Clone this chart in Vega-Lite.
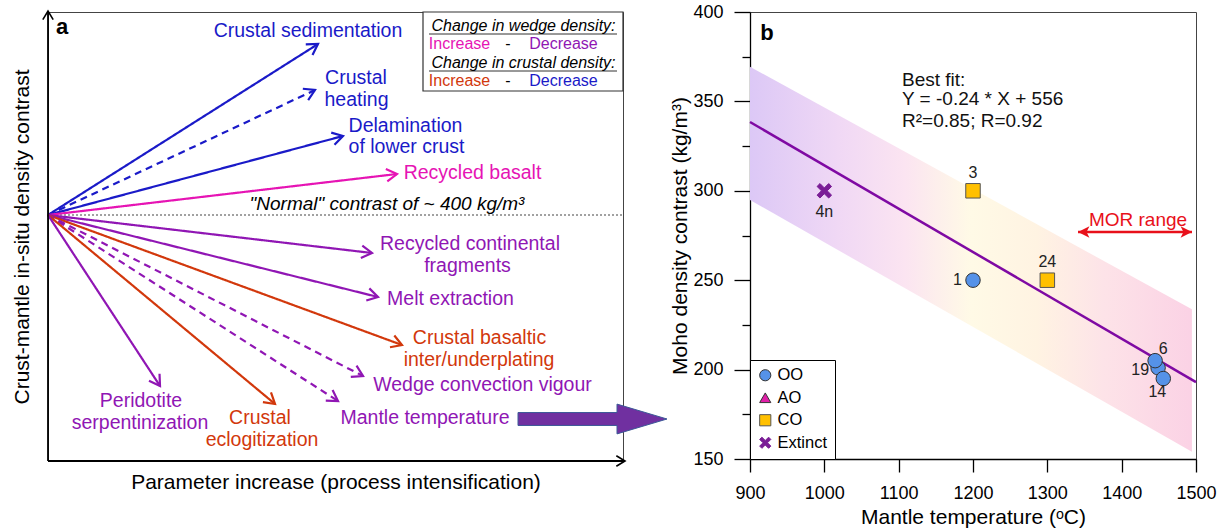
{
  "$schema": "https://vega.github.io/schema/vega-lite/v6.json",
  "padding": {"left": 10, "top": 2, "right": 5, "bottom": 5},
  "background": "white",
  "bounds": "flush",
  "spacing": 127,
  "resolve": {
    "scale": {"fill": "independent", "stroke": "independent", "shape": "independent", "color": "independent", "strokeDash": "independent"},
    "legend": {"fill": "independent", "stroke": "independent", "shape": "independent", "color": "independent", "strokeDash": "independent"}
  },
  "config": {
    "font": "Liberation Sans",
    "view": {"stroke": "#444", "strokeWidth": 1},
    "text": {"font": "Liberation Sans"}
  },
  "datasets": {
    "arrows": [
      {"process": "Crustal sedimentation", "x0": 0, "y0": 246, "x": 270, "y": 417, "ang": -32.3, "effect": "crust-", "line": "solid"},
      {"process": "Crustal heating", "x0": 0, "y0": 246, "x": 267, "y": 371, "ang": -25.1, "effect": "crust-", "line": "dashed"},
      {"process": "Delamination of lower crust", "x0": 0, "y0": 246, "x": 295, "y": 325, "ang": -15.0, "effect": "crust-", "line": "solid"},
      {"process": "Recycled basalt", "x0": 0, "y0": 246, "x": 349, "y": 287, "ang": -6.7, "effect": "wedge+", "line": "solid"},
      {"process": "Recycled continental fragments", "x0": 0, "y0": 246, "x": 324, "y": 208, "ang": 6.7, "effect": "wedge-", "line": "solid"},
      {"process": "Melt extraction", "x0": 0, "y0": 246, "x": 330, "y": 164, "ang": 14.0, "effect": "wedge-", "line": "solid"},
      {"process": "Crustal basaltic inter/underplating", "x0": 0, "y0": 246, "x": 354, "y": 116, "ang": 20.2, "effect": "crust+", "line": "solid"},
      {"process": "Wedge convection vigour", "x0": 0, "y0": 246, "x": 315, "y": 85, "ang": 27.1, "effect": "wedge-", "line": "dashed"},
      {"process": "Mantle temperature", "x0": 0, "y0": 246, "x": 290, "y": 60, "ang": 32.7, "effect": "wedge-", "line": "dashed"},
      {"process": "Crustal eclogitization", "x0": 0, "y0": 246, "x": 227, "y": 57, "ang": 39.8, "effect": "crust+", "line": "solid"},
      {"process": "Peridotite serpentinization", "x0": 0, "y0": 246, "x": 112, "y": 75, "ang": 56.8, "effect": "wedge-", "line": "solid"}
    ],
    "labels": [
      {"txt": "Crustal sedimentation", "x": 260, "y": 430, "effect": "crust-"},
      {"txt": "Crustal", "x": 308, "y": 383, "effect": "crust-"},
      {"txt": "heating", "x": 308.5, "y": 361, "effect": "crust-"},
      {"txt": "Delamination", "x": 357.5, "y": 335, "effect": "crust-"},
      {"txt": "of lower crust", "x": 358.5, "y": 314, "effect": "crust-"},
      {"txt": "Recycled basalt", "x": 424.5, "y": 288, "effect": "wedge+"},
      {"txt": "Recycled continental", "x": 422, "y": 217, "effect": "wedge-"},
      {"txt": "fragments", "x": 419.5, "y": 195, "effect": "wedge-"},
      {"txt": "Melt extraction", "x": 402.5, "y": 162, "effect": "wedge-"},
      {"txt": "Crustal basaltic", "x": 431.5, "y": 123, "effect": "crust+"},
      {"txt": "inter/underplating", "x": 431, "y": 101, "effect": "crust+"},
      {"txt": "Wedge convection vigour", "x": 434.5, "y": 76, "effect": "wedge-"},
      {"txt": "Mantle temperature", "x": 377, "y": 43, "effect": "wedge-"},
      {"txt": "Peridotite", "x": 93, "y": 60, "effect": "wedge-"},
      {"txt": "serpentinization", "x": 92, "y": 38, "effect": "wedge-"},
      {"txt": "Crustal", "x": 212, "y": 43, "effect": "crust+"},
      {"txt": "eclogitization", "x": 214, "y": 21, "effect": "crust+"}
    ],
    "keyrows": [
      {"txt": "Increase", "x": 411.5, "y": 417, "effect": "wedge+"},
      {"txt": "-", "x": 460, "y": 417, "effect": "none"},
      {"txt": "Decrease", "x": 515.5, "y": 417, "effect": "wedge-"},
      {"txt": "Increase", "x": 411.5, "y": 380, "effect": "crust+"},
      {"txt": "-", "x": 460, "y": 380, "effect": "none"},
      {"txt": "Decrease", "x": 515.5, "y": 380, "effect": "crust-"}
    ],
    "sites": [
      {"id": "4n", "type": "Extinct", "T": 1000, "D": 300},
      {"id": "3", "type": "CO", "T": 1200, "D": 300},
      {"id": "1", "type": "OO", "T": 1200, "D": 250},
      {"id": "24", "type": "CO", "T": 1300, "D": 250},
      {"id": "19", "type": "OO", "T": 1449, "D": 201},
      {"id": "6", "type": "OO", "T": 1445, "D": 205},
      {"id": "14", "type": "OO", "T": 1456, "D": 195}
    ]
  },
  "hconcat": [
    {
      "width": 575,
      "height": 449,
      "layer": [
        {
          "data": {"values": [{"x": 0, "x2": 575, "y": 246}]},
          "mark": {"type": "rule", "color": "#444", "strokeWidth": 1.2, "strokeDash": [2, 2]},
          "encoding": {
            "x": {"field": "x", "type": "quantitative", "scale": {"domain": [0, 575], "nice": false, "zero": false},
              "axis": {"title": "Parameter increase (process intensification)", "labels": false, "ticks": false, "domain": false, "grid": false, "titleFontSize": 21, "titleFontWeight": "normal", "titleColor": "#000", "titlePadding": 10}},
            "x2": {"field": "x2"},
            "y": {"field": "y", "type": "quantitative", "scale": {"domain": [0, 449], "nice": false, "zero": false},
              "axis": {"title": "Crust-mantle in-situ density contrast", "labels": false, "ticks": false, "domain": false, "grid": false, "titleFontSize": 21, "titleFontWeight": "normal", "titleColor": "#000", "titlePadding": 16}}
          }
        },
        {
          "data": {"name": "arrows"},
          "mark": {"type": "rule", "strokeWidth": 2.2, "strokeCap": "butt"},
          "encoding": {
            "x": {"field": "x0", "type": "quantitative"},
            "y": {"field": "y0", "type": "quantitative"},
            "x2": {"field": "x"},
            "y2": {"field": "y"},
            "color": {"field": "effect", "type": "nominal", "legend": null,
              "scale": {"domain": ["crust-", "crust+", "wedge+", "wedge-", "none"], "range": ["#1a1ac8", "#d2380c", "#e614b4", "#9016b4", "#000000"]}},
            "strokeDash": {"field": "line", "type": "nominal", "legend": null,
              "scale": {"domain": ["solid", "dashed"], "range": [[1, 0], [7, 5]]}}
          }
        },
        {
          "data": {"name": "arrows"},
          "mark": {"type": "point", "shape": "M-1,-0.6L0,0L-1,0.6", "filled": false, "size": 440, "strokeWidth": 2.2, "opacity": 1},
          "encoding": {
            "x": {"field": "x", "type": "quantitative"},
            "y": {"field": "y", "type": "quantitative"},
            "angle": {"field": "ang", "type": "quantitative", "scale": null},
            "color": {"field": "effect", "type": "nominal", "legend": null,
              "scale": {"domain": ["crust-", "crust+", "wedge+", "wedge-", "none"], "range": ["#1a1ac8", "#d2380c", "#e614b4", "#9016b4", "#000000"]}}
          }
        },
        {
          "data": {"values": [{"x": 375, "x2": 575, "y": 370, "y2": 449}]},
          "mark": {"type": "rect", "fill": "white", "stroke": "#333", "strokeWidth": 1.2},
          "encoding": {
            "x": {"field": "x", "type": "quantitative"},
            "x2": {"field": "x2"},
            "y": {"field": "y", "type": "quantitative"},
            "y2": {"field": "y2"}
          }
        },
        {
          "data": {"values": [{"x": 381, "x2": 569, "y": 427}, {"x": 381, "x2": 569, "y": 390}]},
          "mark": {"type": "rule", "color": "#333", "strokeWidth": 1},
          "encoding": {
            "x": {"field": "x", "type": "quantitative"},
            "x2": {"field": "x2"},
            "y": {"field": "y", "type": "quantitative"}
          }
        },
        {
          "data": {"name": "labels"},
          "mark": {"type": "text", "fontSize": 19.5, "align": "center", "baseline": "middle"},
          "encoding": {
            "x": {"field": "x", "type": "quantitative"},
            "y": {"field": "y", "type": "quantitative"},
            "text": {"field": "txt"},
            "color": {"field": "effect", "type": "nominal", "legend": null,
              "scale": {"domain": ["crust-", "crust+", "wedge+", "wedge-", "none"], "range": ["#1a1ac8", "#d2380c", "#e614b4", "#9016b4", "#000000"]}}
          }
        },
        {
          "data": {"values": [{"txt": "\"Normal\" contrast of ~ 400 kg/m³", "x": 339, "y": 257}]},
          "mark": {"type": "text", "fontSize": 19, "fontStyle": "italic", "align": "center", "baseline": "middle", "color": "#000"},
          "encoding": {
            "x": {"field": "x", "type": "quantitative"},
            "y": {"field": "y", "type": "quantitative"},
            "text": {"field": "txt"}
          }
        },
        {
          "data": {"values": [{"txt": "Change in wedge density:", "x": 475.5, "y": 435}, {"txt": "Change in crustal density:", "x": 475.5, "y": 398}]},
          "mark": {"type": "text", "fontSize": 16, "fontStyle": "italic", "align": "center", "baseline": "middle", "color": "#000"},
          "encoding": {
            "x": {"field": "x", "type": "quantitative"},
            "y": {"field": "y", "type": "quantitative"},
            "text": {"field": "txt"}
          }
        },
        {
          "data": {"name": "keyrows"},
          "mark": {"type": "text", "fontSize": 16, "align": "center", "baseline": "middle"},
          "encoding": {
            "x": {"field": "x", "type": "quantitative"},
            "y": {"field": "y", "type": "quantitative"},
            "text": {"field": "txt"},
            "color": {"field": "effect", "type": "nominal", "legend": null,
              "scale": {"domain": ["crust-", "crust+", "wedge+", "wedge-", "none"], "range": ["#1a1ac8", "#d2380c", "#e614b4", "#9016b4", "#000000"]}}
          }
        },
        {
          "data": {"values": [{"txt": "a", "x": 14, "y": 434}]},
          "mark": {"type": "text", "fontSize": 22, "fontWeight": "bold", "align": "center", "baseline": "middle", "color": "#000"},
          "encoding": {
            "x": {"field": "x", "type": "quantitative"},
            "y": {"field": "y", "type": "quantitative"},
            "text": {"field": "txt"}
          }
        },
        {
          "data": {"values": [{"x": 0, "y": 0, "x2": 577, "y2": 0}, {"x": 0, "y": 0, "x2": 0, "y2": 450}]},
          "mark": {"type": "rule", "color": "#000", "strokeWidth": 1.8},
          "encoding": {
            "x": {"field": "x", "type": "quantitative"},
            "y": {"field": "y", "type": "quantitative"},
            "x2": {"field": "x2"},
            "y2": {"field": "y2"}
          }
        },
        {
          "data": {"values": [{"x": 577, "y": 0, "ang": 0}, {"x": 0, "y": 450, "ang": -90}]},
          "mark": {"type": "point", "shape": "M-1,-0.6L0,0L-1,0.6", "filled": false, "size": 300, "strokeWidth": 1.6, "color": "#000", "opacity": 1},
          "encoding": {
            "x": {"field": "x", "type": "quantitative"},
            "y": {"field": "y", "type": "quantitative"},
            "angle": {"field": "ang", "type": "quantitative", "scale": null}
          }
        },
        {
          "data": {"values": [{"x": 544.5, "y": 42}]},
          "mark": {"type": "point", "shape": "M-1,-0.087L0.329,-0.087L0.329,-0.2L1,0L0.329,0.2L0.329,0.087L-1,0.087Z", "filled": true, "size": 22201, "fill": "#7030a0", "stroke": "#3d5a98", "strokeWidth": 1, "opacity": 1},
          "encoding": {
            "x": {"field": "x", "type": "quantitative"},
            "y": {"field": "y", "type": "quantitative"}
          }
        }
      ]
    },
    {
      "width": 446,
      "height": 447,
      "layer": [
        {
          "data": {"values": [{"T": 900, "lo": 294.9, "hi": 369.4}, {"T": 1494.5, "lo": 154.1, "hi": 233.7}]},
          "mark": {"type": "area", "opacity": 1,
            "fill": {"gradient": "linear", "x1": 0, "y1": 0, "x2": 1, "y2": 0,
              "stops": [
                {"offset": 0, "color": "#dcc8f6"},
                {"offset": 0.2, "color": "#f0d8f5"},
                {"offset": 0.35, "color": "#fbe4f1"},
                {"offset": 0.5, "color": "#fffae6"},
                {"offset": 0.65, "color": "#fff3e2"},
                {"offset": 0.8, "color": "#fde3e8"},
                {"offset": 1, "color": "#fbd2e5"}
              ]}},
          "encoding": {
            "x": {"field": "T", "type": "quantitative", "scale": {"domain": [900, 1500], "nice": false, "zero": false},
              "axis": {"title": "Mantle temperature (ᵒC)", "values": [900, 950, 1000, 1050, 1100, 1150, 1200, 1250, 1300, 1350, 1400, 1450, 1500],
                "format": "d", "labelExpr": "datum.value % 100 === 0 ? datum.label : ''",
                "tickSize": {"condition": {"test": "datum.value % 100 === 0", "value": 13}, "value": 8},
                "grid": false, "domainColor": "#000", "tickColor": "#000", "domainWidth": 1.3, "tickWidth": 1.3,
                "labelFontSize": 18, "labelColor": "#000", "labelPadding": 12, "labelOverlap": false, "labelFlush": false,
                "titleFontSize": 21, "titleFontWeight": "normal", "titleColor": "#000", "titlePadding": 4}},
            "y": {"field": "hi", "type": "quantitative", "scale": {"domain": [150, 400], "nice": false, "zero": false},
              "axis": {"title": "Moho density contrast (kg/m³)", "values": [150, 175, 200, 225, 250, 275, 300, 325, 350, 375, 400],
                "format": "d", "labelExpr": "datum.value % 50 === 0 ? datum.label : ''",
                "tickSize": {"condition": {"test": "datum.value % 50 === 0", "value": 16}, "value": 8},
                "grid": false, "domainColor": "#000", "tickColor": "#000", "domainWidth": 1.3, "tickWidth": 1.3,
                "labelFontSize": 18, "labelColor": "#000", "labelPadding": 11, "labelOverlap": false, "labelFlush": false,
                "titleFontSize": 21, "titleFontWeight": "normal", "titleColor": "#000", "titlePadding": 2}},
            "y2": {"field": "lo"}
          }
        },
        {
          "data": {"values": [{"T": 900, "D": 338.5}, {"T": 1500, "D": 193}]},
          "mark": {"type": "line", "color": "#7f0aa3", "strokeWidth": 2.5},
          "encoding": {
            "x": {"field": "T", "type": "quantitative"},
            "y": {"field": "D", "type": "quantitative"}
          }
        },
        {
          "data": {"values": [{"T": 1341.3, "T2": 1494.6, "D": 277}]},
          "mark": {"type": "rule", "color": "#e8101a", "strokeWidth": 2.5},
          "encoding": {
            "x": {"field": "T", "type": "quantitative"},
            "x2": {"field": "T2"},
            "y": {"field": "D", "type": "quantitative"}
          }
        },
        {
          "data": {"values": [{"T": 1341.3, "D": 277, "ang": 180}, {"T": 1494.6, "D": 277, "ang": 0}]},
          "mark": {"type": "point", "shape": "M0,0L-1,-0.5L-0.75,0L-1,0.5Z", "filled": true, "size": 520, "color": "#e8101a", "opacity": 1},
          "encoding": {
            "x": {"field": "T", "type": "quantitative"},
            "y": {"field": "D", "type": "quantitative"},
            "angle": {"field": "ang", "type": "quantitative", "scale": null}
          }
        },
        {
          "data": {"values": [{"T": 1422, "D": 283.7, "txt": "MOR range"}]},
          "mark": {"type": "text", "fontSize": 19, "color": "#e8101a", "align": "center", "baseline": "middle"},
          "encoding": {
            "x": {"field": "T", "type": "quantitative"},
            "y": {"field": "D", "type": "quantitative"},
            "text": {"field": "txt"}
          }
        },
        {
          "data": {"name": "sites"},
          "mark": {"type": "point", "filled": true, "size": 210, "opacity": 1, "strokeWidth": 1},
          "encoding": {
            "x": {"field": "T", "type": "quantitative"},
            "y": {"field": "D", "type": "quantitative"},
            "fill": {"field": "type", "type": "nominal",
              "scale": {"domain": ["OO", "AO", "CO", "Extinct"], "range": ["#5592e8", "#e020a8", "#ffc000", "#7a1d96"]},
              "legend": {"title": null, "orient": "bottom-left", "offset": 0, "padding": 7, "strokeColor": "#000", "fillColor": "#fff", "labelFontSize": 16.5, "labelColor": "#000", "symbolSize": 125, "rowPadding": 5.5, "labelOffset": 4, "symbolStrokeWidth": 1}},
            "stroke": {"field": "type", "type": "nominal",
              "scale": {"domain": ["OO", "AO", "CO", "Extinct"], "range": ["#333333", "#333333", "#555555", "#7a1d96"]},
              "legend": {"title": null, "orient": "bottom-left", "offset": 0, "padding": 7, "strokeColor": "#000", "fillColor": "#fff", "labelFontSize": 16.5, "labelColor": "#000", "symbolSize": 125, "rowPadding": 5.5, "labelOffset": 4, "symbolStrokeWidth": 1}},
            "shape": {"field": "type", "type": "nominal",
              "scale": {"domain": ["OO", "AO", "CO", "Extinct"], "range": ["circle", "triangle-up", "square", "M-1,-0.6L-0.6,-1L0,-0.4L0.6,-1L1,-0.6L0.4,0L1,0.6L0.6,1L0,0.4L-0.6,1L-1,0.6L-0.4,0Z"]},
              "legend": {"title": null, "orient": "bottom-left", "offset": 0, "padding": 7, "strokeColor": "#000", "fillColor": "#fff", "labelFontSize": 16.5, "labelColor": "#000", "symbolSize": 125, "rowPadding": 5.5, "labelOffset": 4, "symbolStrokeWidth": 1}}
          }
        },
        {
          "data": {"name": "sites"},
          "transform": [{"filter": "datum.id === '4n'"}],
          "mark": {"type": "text", "fontSize": 16, "color": "#222", "align": "center", "baseline": "middle", "dy": 21},
          "encoding": {"x": {"field": "T", "type": "quantitative"}, "y": {"field": "D", "type": "quantitative"}, "text": {"field": "id"}}
        },
        {
          "data": {"name": "sites"},
          "transform": [{"filter": "datum.id === '3' || datum.id === '24'"}],
          "mark": {"type": "text", "fontSize": 16, "color": "#222", "align": "center", "baseline": "middle", "dy": -18},
          "encoding": {"x": {"field": "T", "type": "quantitative"}, "y": {"field": "D", "type": "quantitative"}, "text": {"field": "id"}}
        },
        {
          "data": {"name": "sites"},
          "transform": [{"filter": "datum.id === '1'"}],
          "mark": {"type": "text", "fontSize": 16, "color": "#222", "align": "right", "baseline": "middle", "dx": -11},
          "encoding": {"x": {"field": "T", "type": "quantitative"}, "y": {"field": "D", "type": "quantitative"}, "text": {"field": "id"}}
        },
        {
          "data": {"name": "sites"},
          "transform": [{"filter": "datum.id === '19'"}],
          "mark": {"type": "text", "fontSize": 16, "color": "#222", "align": "right", "baseline": "middle", "dx": -9, "dy": 2},
          "encoding": {"x": {"field": "T", "type": "quantitative"}, "y": {"field": "D", "type": "quantitative"}, "text": {"field": "id"}}
        },
        {
          "data": {"name": "sites"},
          "transform": [{"filter": "datum.id === '6'"}],
          "mark": {"type": "text", "fontSize": 16, "color": "#222", "align": "center", "baseline": "middle", "dx": 8, "dy": -12},
          "encoding": {"x": {"field": "T", "type": "quantitative"}, "y": {"field": "D", "type": "quantitative"}, "text": {"field": "id"}}
        },
        {
          "data": {"name": "sites"},
          "transform": [{"filter": "datum.id === '14'"}],
          "mark": {"type": "text", "fontSize": 16, "color": "#222", "align": "center", "baseline": "middle", "dx": -6, "dy": 13},
          "encoding": {"x": {"field": "T", "type": "quantitative"}, "y": {"field": "D", "type": "quantitative"}, "text": {"field": "id"}}
        },
        {
          "data": {"values": [{"T": 922.9, "D": 388.3, "txt": "b"}]},
          "mark": {"type": "text", "fontSize": 22, "fontWeight": "bold", "color": "#000", "align": "center", "baseline": "middle"},
          "encoding": {"x": {"field": "T", "type": "quantitative"}, "y": {"field": "D", "type": "quantitative"}, "text": {"field": "txt"}}
        },
        {
          "data": {"values": [
            {"T": 1104.5, "D": 362.0, "txt": "Best fit:"},
            {"T": 1104.5, "D": 351.3, "txt": "Y = -0.24 * X + 556"},
            {"T": 1104.5, "D": 339.0, "txt": "R²=0.85; R=0.92"}
          ]},
          "mark": {"type": "text", "fontSize": 19, "color": "#111", "align": "left", "baseline": "middle"},
          "encoding": {"x": {"field": "T", "type": "quantitative"}, "y": {"field": "D", "type": "quantitative"}, "text": {"field": "txt"}}
        }
      ]
    }
  ]
}
